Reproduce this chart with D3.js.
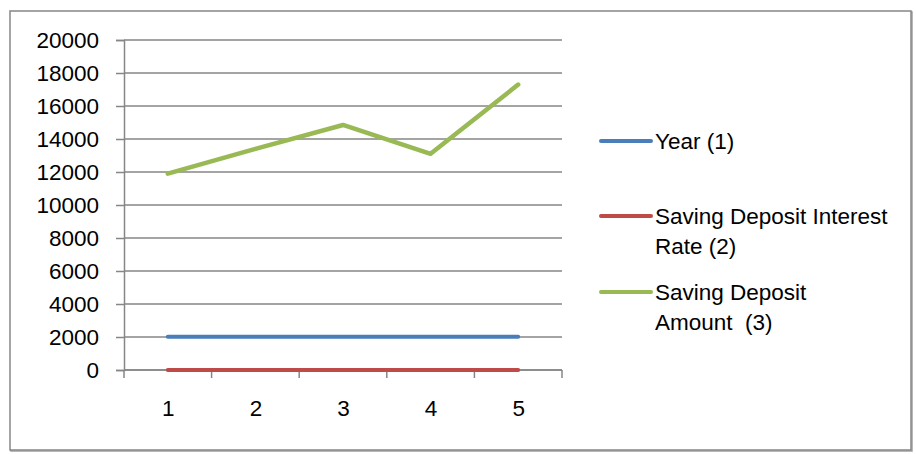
<!DOCTYPE html>
<html>
<head>
<meta charset="utf-8">
<script src="https://cdn.jsdelivr.net/npm/d3@7/dist/d3.min.js"></script>
<style>
  html, body { margin: 0; padding: 0; background: #fff; }
  svg { display: block; }
  text { font-family: "Liberation Sans", Arial, sans-serif; fill: #000; }
</style>
</head>
<body>
<svg id="chart" width="916" height="454"></svg>
<script>
// Category labels along the x axis
const categories = ["1", "2", "3", "4", "5"];

// Series values
const yearValues = [2010, 2011, 2012, 2013, 2014];
const interestRateValues = [4.5, 4.5, 4.25, 4.0, 4.0];
const depositAmountValues = [11900, 13400, 14850, 13100, 17300];

// Y axis tick values
const yTicks = [0, 2000, 4000, 6000, 8000, 10000, 12000, 14000, 16000, 18000, 20000];

const legendLines = [["Year (1)"], ["Saving Deposit Interest", "Rate (2)"], ["Saving Deposit", "Amount  (3)"]];
const seriesColors = ["#4A7EBB", "#BE4B48", "#98B954"];
const seriesData = [yearValues, interestRateValues, depositAmountValues];

const fontSize = "22.5px";
const svg = d3.select("#chart");

// Outer chart frame with a faint offset edge on the right and bottom
svg.append("rect")
  .attr("x", 11).attr("y", 12)
  .attr("width", 901).attr("height", 439)
  .attr("fill", "none")
  .attr("stroke", "#a0a0a0")
  .attr("stroke-width", 1.5);
svg.append("rect")
  .attr("x", 10).attr("y", 11)
  .attr("width", 901).attr("height", 439)
  .attr("fill", "#fff")
  .attr("stroke", "#868686")
  .attr("stroke-width", 1.5);

const plot = { left: 124, right: 562, top: 40, bottom: 370 };

const xBand = d3.scaleBand().domain(categories).range([plot.left, plot.right]);
const xPoint = d3.scalePoint().domain(categories).range([plot.left, plot.right]).padding(0.5);
const y = d3.scaleLinear().domain([0, 20000]).range([plot.bottom, plot.top]);

const gridColor = "#868686";
const gridWidth = 1.5;

// Horizontal gridlines
svg.append("g")
  .selectAll("line")
  .data(yTicks)
  .join("line")
  .attr("x1", plot.left).attr("x2", plot.right)
  .attr("y1", d => y(d)).attr("y2", d => y(d))
  .attr("stroke", gridColor)
  .attr("stroke-width", gridWidth);

// Y axis
const yAxis = svg.append("g")
  .attr("transform", `translate(${plot.left},0)`)
  .call(d3.axisLeft(y).tickValues(yTicks).tickSize(8).tickPadding(17).tickFormat(d3.format("d")));
yAxis.select(".domain").attr("stroke", gridColor).attr("stroke-width", gridWidth);
yAxis.selectAll(".tick line").attr("stroke", gridColor).attr("stroke-width", gridWidth);
yAxis.selectAll(".tick text").style("font-size", fontSize).attr("dy", "0.35em").attr("fill", "#000");

// X axis line and category boundary ticks
const xAxis = svg.append("g")
  .attr("transform", `translate(0,${plot.bottom})`);
xAxis.append("line")
  .attr("x1", plot.left).attr("x2", plot.right)
  .attr("stroke", gridColor).attr("stroke-width", gridWidth);
const boundaries = categories.map(c => xBand(c)).concat([xBand.range()[1]]);
xAxis.selectAll("line.bt")
  .data(boundaries)
  .join("line")
  .attr("class", "bt")
  .attr("x1", d => d).attr("x2", d => d)
  .attr("y1", 0).attr("y2", 8)
  .attr("stroke", gridColor).attr("stroke-width", gridWidth);

// Category labels
const xLabels = svg.append("g")
  .attr("transform", `translate(0,${plot.bottom})`)
  .call(d3.axisBottom(xPoint).tickSize(0).tickPadding(30));
xLabels.select(".domain").remove();
xLabels.selectAll(".tick text").style("font-size", fontSize).attr("fill", "#000");

// Series lines
const line = d3.line()
  .x((d, i) => xPoint(categories[i]))
  .y(d => y(d));

svg.append("g")
  .selectAll("path")
  .data(seriesData)
  .join("path")
  .attr("d", d => line(d))
  .attr("fill", "none")
  .attr("stroke", (d, i) => seriesColors[i])
  .attr("stroke-width", (d, i) => i === 2 ? 4.5 : 4)
  .attr("stroke-linecap", "round")
  .attr("stroke-linejoin", "round");

// Legend
const legendY = [141, 216, 292];
const legend = svg.append("g");
legendLines.forEach((lines, i) => {
  const g = legend.append("g").attr("transform", `translate(0,${legendY[i]})`);
  g.append("line")
    .attr("x1", 601).attr("x2", 651)
    .attr("y1", 0).attr("y2", 0)
    .attr("stroke", seriesColors[i])
    .attr("stroke-width", 4)
    .attr("stroke-linecap", "round");
  const t = g.append("text")
    .attr("x", 655).attr("y", 8)
    .style("font-size", fontSize);
  lines.forEach((ln, j) => {
    t.append("tspan")
      .attr("x", 655)
      .attr("dy", j === 0 ? 0 : 29.5)
      .attr("xml:space", "preserve")
      .text(ln);
  });
});
</script>
</body>
</html>
